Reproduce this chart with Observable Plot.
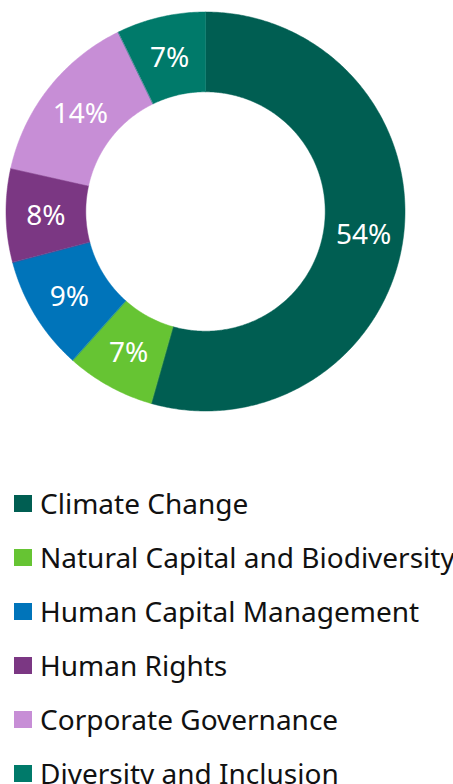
<!DOCTYPE html>
<html>
<head>
<meta charset="utf-8">
<script src="https://cdn.jsdelivr.net/npm/d3@7"></script>
<script src="https://cdn.jsdelivr.net/npm/@observablehq/plot@0.6"></script>
<style>
  html, body { margin: 0; padding: 0; background: #fff; }
  body { width: 453px; height: 784px; overflow: hidden; font-family: "Noto Sans", "Open Sans", sans-serif; }
  #legend { margin-top: 46px; }
  .row { display: flex; align-items: center; height: 54px; white-space: nowrap; font-size: 28px; color: #111; }
  .sw { width: 18px; height: 17px; margin-left: 14px; margin-right: 8px; flex: none; }
</style>
</head>
<body>
<div id="chart"></div>
<div id="legend"></div>
<script>
const categories = ["Climate Change", "Natural Capital and Biodiversity", "Human Capital Management", "Human Rights", "Corporate Governance", "Diversity and Inclusion"];
const shares = [54.4, 7.2, 9.3, 7.6, 14.3, 7.2];
const colors = ["#005e52", "#66c433", "#0074ba", "#7b3783", "#c78ed6", "#007a6a"];

const data = categories.map((c, i) => ({category: c, value: shares[i]}));
const pie = d3.pie().value(d => d.value).sort(null)(data);
const inner = 0.6, outer = 1;

// polygon points for each ring segment (angle measured clockwise from 12 o'clock)
const pts = [];
for (const a of pie) {
  const n = Math.max(2, Math.ceil((a.endAngle - a.startAngle) / 0.01));
  const ring = [];
  for (let k = 0; k <= n; k++) {
    const t = a.startAngle + (a.endAngle - a.startAngle) * k / n;
    ring.push({category: a.data.category, x: outer * Math.sin(t), y: outer * Math.cos(t)});
  }
  for (let k = n; k >= 0; k--) {
    const t = a.startAngle + (a.endAngle - a.startAngle) * k / n;
    ring.push({category: a.data.category, x: inner * Math.sin(t), y: inner * Math.cos(t)});
  }
  pts.push(...ring);
}
const labels = pie.map(a => {
  const t = (a.startAngle + a.endAngle) / 2, r = (inner + outer) / 2;
  return {category: a.data.category, label: Math.round(a.data.value) + "%", x: r * Math.sin(t), y: r * Math.cos(t)};
});

const W = 453, H = 430, R = 199.5, cx = 205, cy = 211;
const chart = Plot.plot({
  width: W, height: H, margin: 0,
  x: {domain: [-cx / R, (W - cx) / R], range: [0, W], axis: null},
  y: {domain: [-(H - cy) / R, cy / R], range: [H, 0], axis: null},
  color: {domain: categories, range: colors},
  style: {fontFamily: "'Noto Sans', 'Open Sans', sans-serif", background: "transparent"},
  marks: [
    Plot.line(pts, {x: "x", y: "y", z: "category", fill: "category", stroke: "category", strokeWidth: 0.5, curve: "linear-closed"}),
    Plot.text(labels, {x: "x", y: "y", text: "label", fill: "white", fontSize: 28, dy: 2})
  ]
});
document.getElementById("chart").appendChild(chart);

const legend = document.getElementById("legend");
categories.forEach((c, i) => {
  const row = document.createElement("div");
  row.className = "row";
  const sw = document.createElement("span");
  sw.className = "sw";
  sw.style.background = colors[i];
  const tx = document.createElement("span");
  tx.textContent = c;
  row.appendChild(sw); row.appendChild(tx);
  legend.appendChild(row);
});
</script>
</body>
</html>
